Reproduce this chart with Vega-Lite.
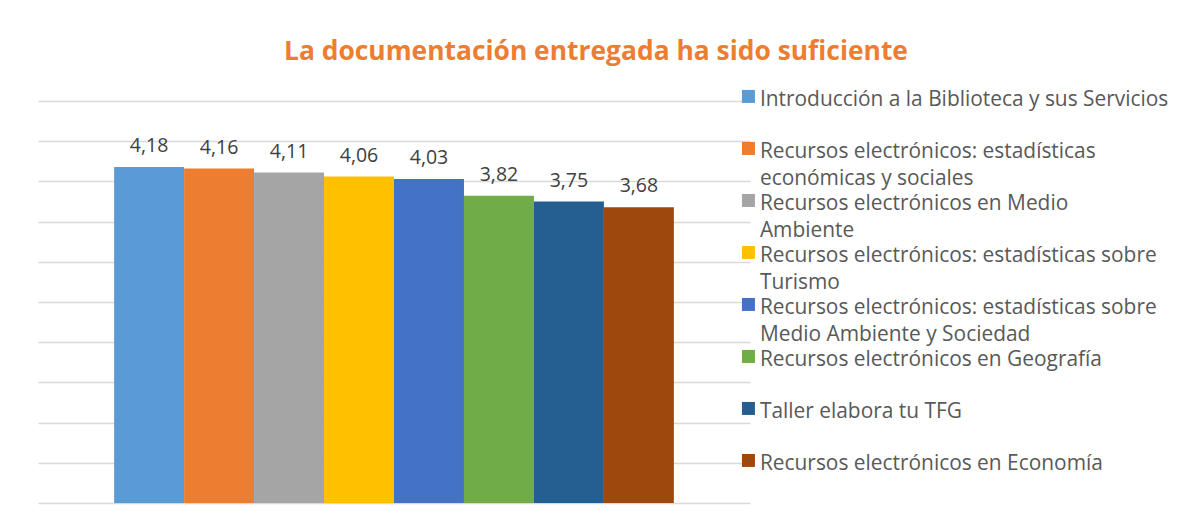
{
  "$schema": "https://vega.github.io/schema/vega-lite/v6.json",
  "width": 712,
  "height": 402,
  "autosize": {"type": "none"},
  "padding": {"left": 38, "top": 101, "right": 437, "bottom": 21},
  "background": "white",
  "title": {
    "text": "La documentación entregada ha sido suficiente",
    "color": "#ED7D31",
    "font": "Open Sans",
    "fontSize": 26.4,
    "fontWeight": "bold",
    "anchor": "middle",
    "dx": 202,
    "offset": 21
  },
  "config": {
    "view": {"stroke": null},
    "locale": {"number": {"decimal": ",", "thousands": ".", "grouping": [3], "currency": ["", " €"]}}
  },
  "data": {
    "values": [
      {"serie": "Introducción a la Biblioteca y sus Servicios", "valor": 4.18},
      {"serie": "Recursos electrónicos: estadísticas económicas y sociales", "valor": 4.16},
      {"serie": "Recursos electrónicos en Medio Ambiente", "valor": 4.11},
      {"serie": "Recursos electrónicos: estadísticas sobre Turismo", "valor": 4.06},
      {"serie": "Recursos electrónicos: estadísticas sobre Medio Ambiente y Sociedad", "valor": 4.03},
      {"serie": "Recursos electrónicos en Geografía", "valor": 3.82},
      {"serie": "Taller elabora tu TFG", "valor": 3.75},
      {"serie": "Recursos electrónicos en Economía", "valor": 3.68}
    ]
  },
  "encoding": {
    "x": {
      "datum": "Total",
      "type": "nominal",
      "axis": null,
      "scale": {"paddingInner": 0, "paddingOuter": 0.136}
    },
    "xOffset": {
      "field": "serie",
      "type": "nominal",
      "sort": null,
      "scale": {"paddingInner": 0, "paddingOuter": 0}
    },
    "y": {
      "field": "valor",
      "type": "quantitative",
      "scale": {"domain": [0, 5], "nice": false, "zero": true},
      "axis": {
        "values": [0, 0.5, 1, 1.5, 2, 2.5, 3, 3.5, 4, 4.5, 5],
        "labels": false,
        "ticks": false,
        "domain": false,
        "title": null,
        "grid": true,
        "gridColor": "#d9d9d9",
        "gridWidth": 1.5
      }
    }
  },
  "layer": [
    {
      "mark": {"type": "bar"},
      "encoding": {
        "color": {
          "field": "serie",
          "type": "nominal",
          "sort": null,
          "scale": {
            "domain": [
              "Introducción a la Biblioteca y sus Servicios",
              "Recursos electrónicos: estadísticas económicas y sociales",
              "Recursos electrónicos en Medio Ambiente",
              "Recursos electrónicos: estadísticas sobre Turismo",
              "Recursos electrónicos: estadísticas sobre Medio Ambiente y Sociedad",
              "Recursos electrónicos en Geografía",
              "Taller elabora tu TFG",
              "Recursos electrónicos en Economía"
            ],
            "range": ["#5B9BD5", "#ED7D31", "#A5A5A5", "#FFC000", "#4472C4", "#70AD47", "#255E91", "#9E480E"]
          },
          "legend": {
            "orient": "none",
            "legendX": 700,
            "legendY": -15,
            "title": null,
            "symbolType": "square",
            "symbolSize": 169,
            "symbolStrokeWidth": 0,
            "labelFont": "Open Sans",
            "labelFontSize": 20.9,
            "labelColor": "#595959",
            "labelOffset": 1,
            "labelLimit": 500,
            "labelBaseline": "top",
            "rowPadding": 0,
            "encode": {"labels": {"update": {"lineHeight": {"value": 27}, "dy": {"value": -7}}}},
            "labelExpr": "datum.label == 'Recursos electrónicos: estadísticas económicas y sociales' ? ['Recursos electrónicos: estadísticas', 'económicas y sociales'] : datum.label == 'Recursos electrónicos en Medio Ambiente' ? ['Recursos electrónicos en Medio', 'Ambiente'] : datum.label == 'Recursos electrónicos: estadísticas sobre Turismo' ? ['Recursos electrónicos: estadísticas sobre', 'Turismo'] : datum.label == 'Recursos electrónicos: estadísticas sobre Medio Ambiente y Sociedad' ? ['Recursos electrónicos: estadísticas sobre', 'Medio Ambiente y Sociedad'] : [datum.label, ' ']"
          }
        }
      }
    },
    {
      "mark": {"type": "text", "baseline": "alphabetic", "dy": -15, "font": "Open Sans", "fontSize": 19.5, "color": "#404040"},
      "encoding": {
        "text": {"field": "valor", "type": "quantitative", "format": ".2f"}
      }
    }
  ]
}
